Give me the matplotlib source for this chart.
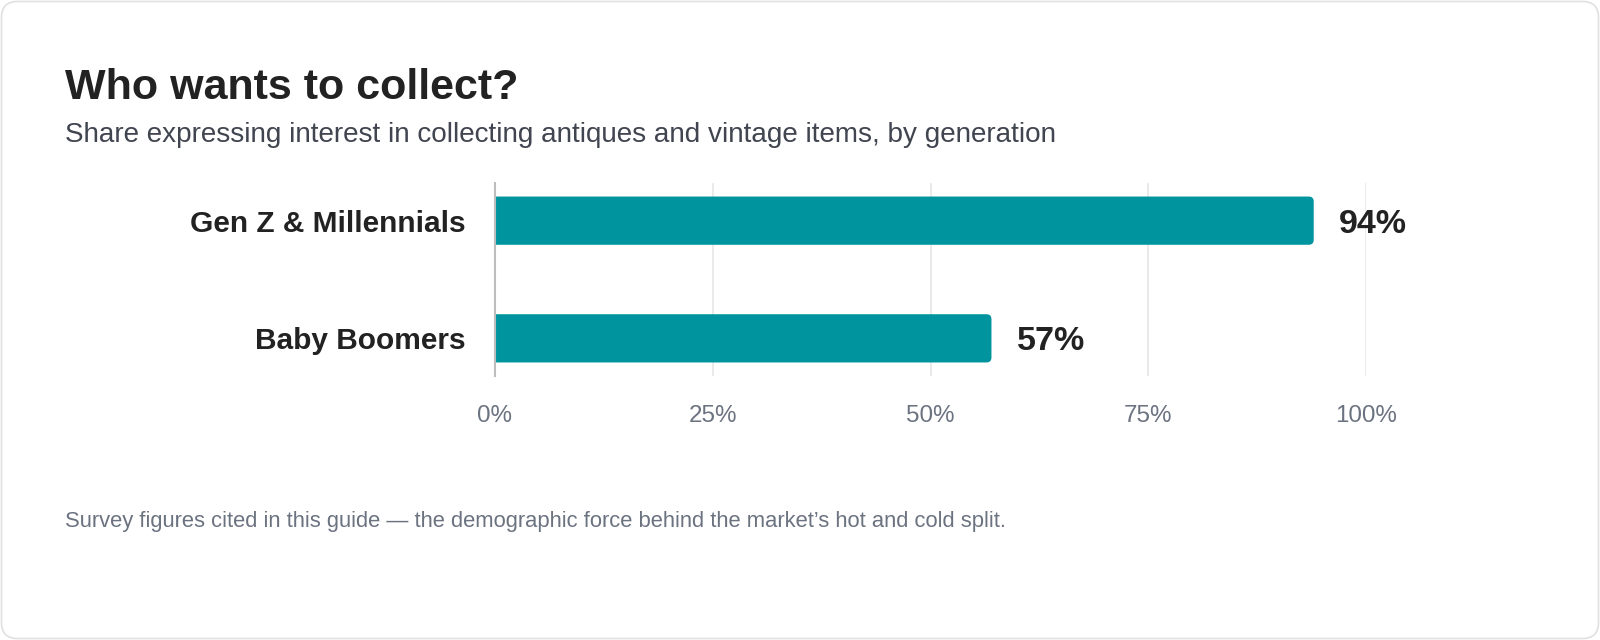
import matplotlib.pyplot as plt
from matplotlib.patches import FancyBboxPatch

plt.rcParams['font.family'] = ['Liberation Sans', 'DejaVu Sans']

groups = ["Gen Z & Millennials", "Baby Boomers"]
shares = [94, 57]
ticks = [0, 25, 50, 75, 100]
tick_labels = ["0%", "25%", "50%", "75%", "100%"]

teal = "#00959e"
W, H = 1600, 640
fig = plt.figure(figsize=(16, 6.4), dpi=100)
fig.patch.set_facecolor("white")

# card outline
card = FancyBboxPatch((1.5 / W, 1.5 / H), 1 - 3 / W, 1 - 3 / H,
                      boxstyle="round,pad=0,rounding_size=0.01",
                      mutation_aspect=W / H, transform=fig.transFigure,
                      facecolor="none", edgecolor="#e0e0e0", linewidth=1.2,
                      zorder=-5)
fig.patches.append(card)

fig.text(65 / W, 1 - 99 / H, "Who wants to collect?", fontsize=31,
         fontweight="bold", color="#222222", va="baseline", ha="left")
fig.text(65 / W, 1 - 142 / H,
         "Share expressing interest in collecting antiques and vintage items, by generation",
         fontsize=20.1, color="#404550", va="baseline", ha="left")
fig.text(65 / W, 1 - 527 / H,
         "Survey figures cited in this guide \u2014 the demographic force behind the market\u2019s hot and cold split.",
         fontsize=15.8, color="#6b7280", va="baseline", ha="left")

ax = fig.add_axes([495 / W, 1 - 376 / H, (1366 - 495) / W, (376 - 183) / H])
ax.set_xlim(0, 100)
ax.set_ylim(1.32, -0.32)

# rounded bars, left corners pushed past x=0 and clipped away
px_x = (1366 - 495) / 100
px_y = (376 - 183) / 1.64
rad = 5 / px_x
bar_h = 0.41
for i, v in enumerate(shares):
    p = FancyBboxPatch((-1, i - bar_h / 2), v + 1, bar_h,
                       boxstyle=f"round,pad=0,rounding_size={rad}",
                       mutation_aspect=px_x / px_y,
                       facecolor=teal, edgecolor="none", zorder=3)
    ax.add_patch(p)
    ax.annotate(f"{v}%", (v, i), xytext=(18, 0), textcoords="offset points",
                va="center_baseline", ha="left", fontsize=24.5, fontweight="bold",
                color="#222222")

ax.set_yticks(range(len(groups)))
ax.set_yticklabels(groups, fontsize=21.5, fontweight="bold", color="#222222",
                   va="center_baseline")
ax.set_xticks(ticks)
ax.set_xticklabels(tick_labels, fontsize=17.4, color="#6b7280")
ax.tick_params(axis="y", length=0, pad=21)
ax.tick_params(axis="x", length=0, pad=21)
ax.grid(axis="x", color="#e6e6e6", linewidth=1.2, zorder=0)
ax.set_axisbelow(True)
for s in ["top", "right", "bottom"]:
    ax.spines[s].set_visible(False)
ax.spines["left"].set_color("#bdbdbd")
ax.spines["left"].set_linewidth(1.5)
ax.spines["left"].set_zorder(4)
ax.set_facecolor("none")

fig.savefig("out.png", dpi=100)
